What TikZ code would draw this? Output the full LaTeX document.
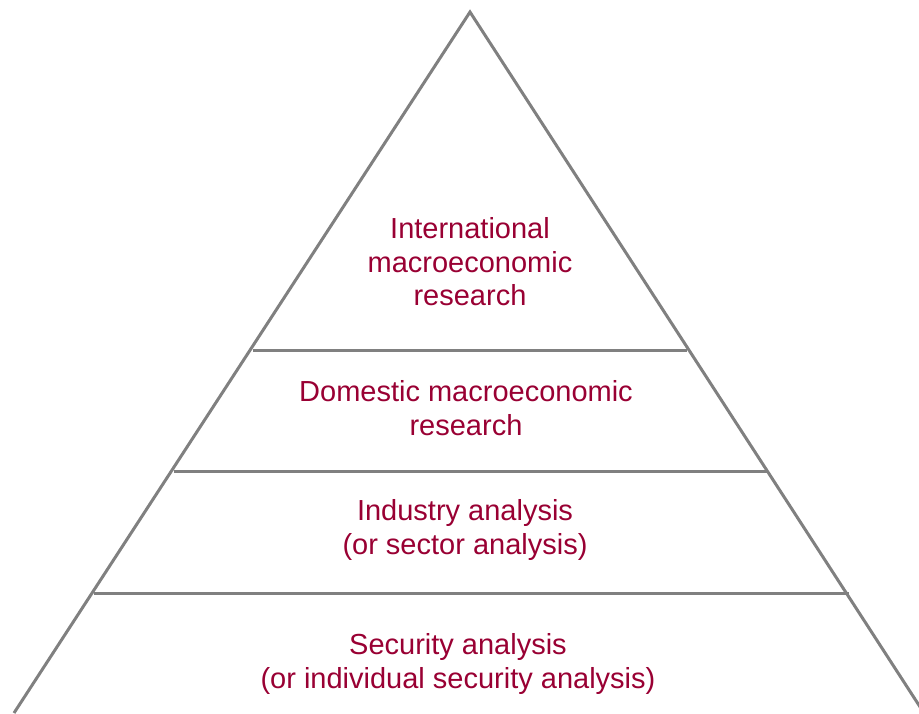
\documentclass[tikz,border=0pt]{standalone}
\usepackage{fontspec}
\setmainfont{Liberation Sans}
\definecolor{txtred}{RGB}{153,0,51}
\definecolor{linegray}{RGB}{128,128,128}
\begin{document}
\begin{tikzpicture}[x=1pt,y=-1pt,
  edge/.style={draw=linegray,line width=3pt},
  label/.style={text=txtred,align=center,font=\fontsize{29}{33.5}\selectfont,inner sep=0pt}]
\useasboundingbox (0,0) rectangle (919,713);
\begin{scope}
\clip (0,0) rectangle (919,713);
\coordinate (apex) at (470,12);
\coordinate (bl) at (14,713);
\coordinate (br) at (924,713);
\draw[edge,line join=miter] (bl) -- (apex) -- (br);
\coordinate (l1) at (253,350); \coordinate (r1) at (687,350);
\coordinate (l2) at (174,471); \coordinate (r2) at (768,471);
\coordinate (l3) at (94,593);  \coordinate (r3) at (849,593);
\draw[edge] (l1) -- (r1);
\draw[edge] (l2) -- (r2);
\draw[edge] (l3) -- (r3);
\end{scope}
\node[label] (t1) at (470,262) {International\\macroeconomic\\research};
\node[label] (t2) at (466,408) {Domestic macroeconomic\\research};
\node[label] (t3) at (465,530) {Industry analysis\\(or sector analysis)};
\node[label] (t4) at (458,664) {Security analysis\\(or individual security analysis)};
\end{tikzpicture}
\end{document}
